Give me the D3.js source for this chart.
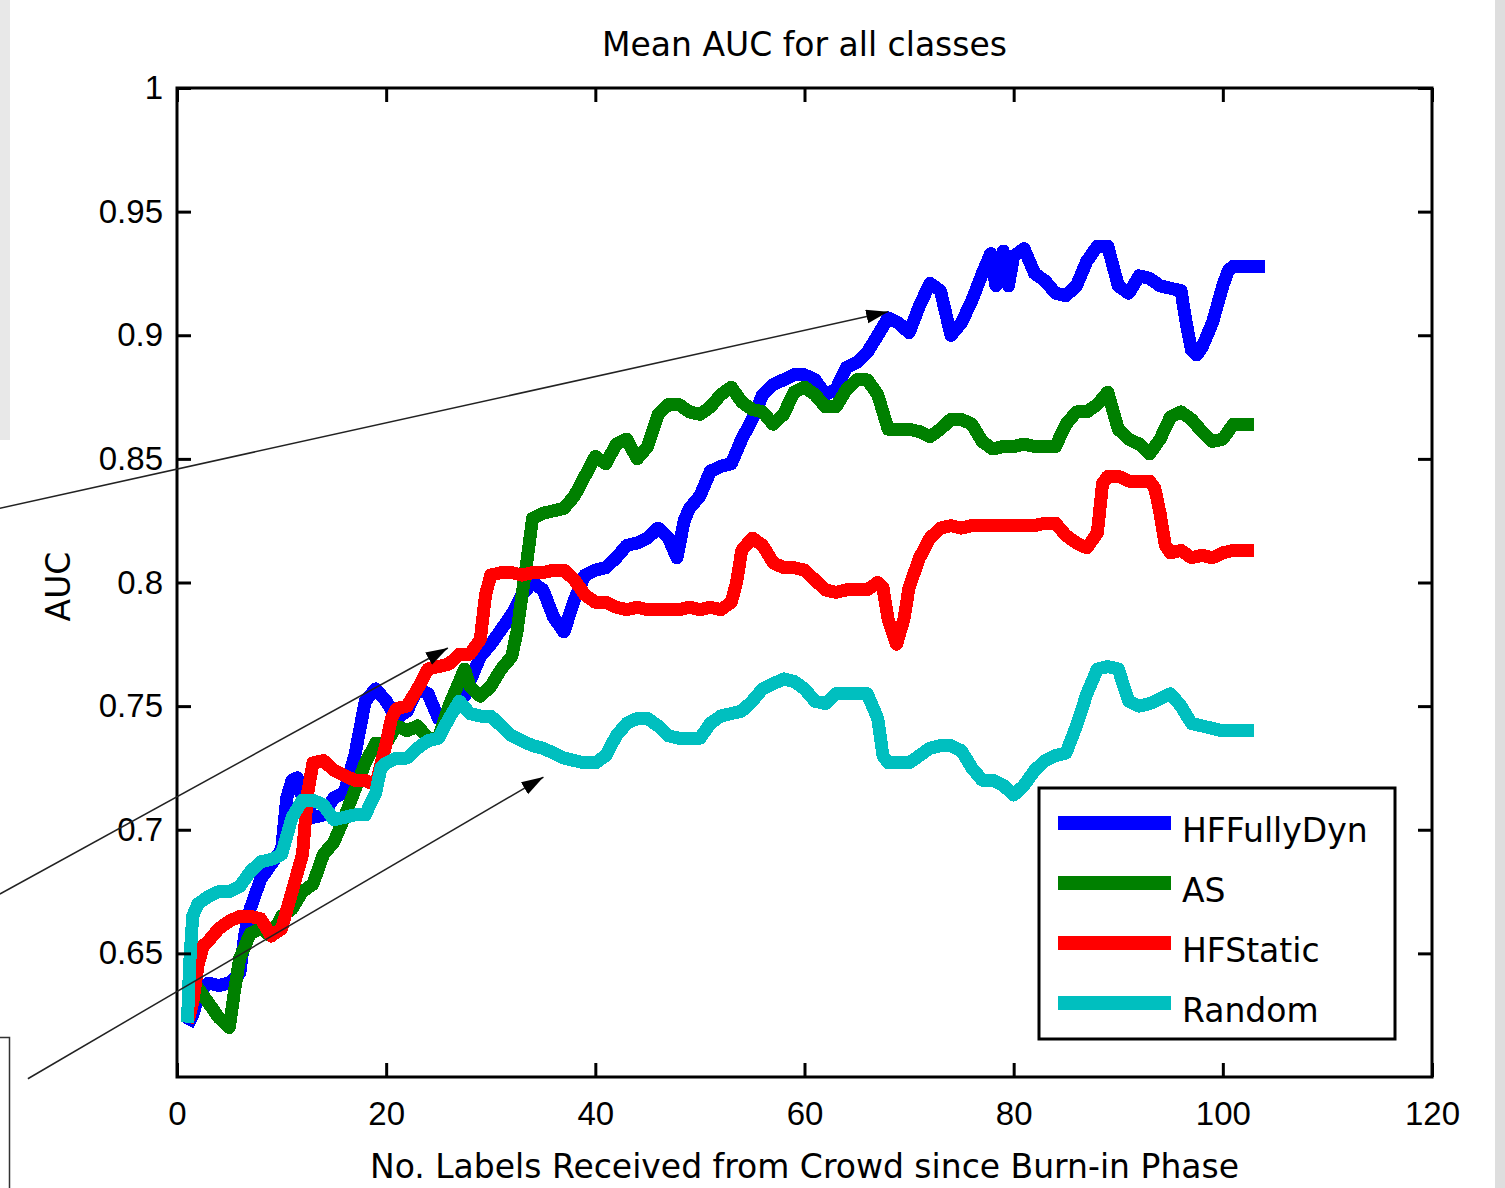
<!DOCTYPE html>
<html>
<meta charset="utf-8">
<title>Mean AUC for all classes</title>
<style>
html,body{margin:0;background:#fff;}
svg{display:block;background:#fff;}
.tick text{font-family:"Liberation Sans",Arial,sans-serif;font-size:33px;fill:#000;}
.tick line{stroke:#000;stroke-width:3;}
.lbl{font-family:"DejaVu Sans",sans-serif;font-size:33px;fill:#000;}
</style>
<script src="https://cdn.jsdelivr.net/npm/d3@7"></script>
<body>
<script>

var width = 1505, height = 1188;
var margin = {left:177, right:73, top:88, bottom:111};

// data: [labels received, mean AUC]
var seriesNames = ["HFFullyDyn", "AS", "HFStatic", "Random"];
var seriesColors = ["#0000ff", "#008000", "#ff0000", "#00bfbf"];

var hfFullyDyn = [[1,0.621],[1.5,0.625],[2,0.632],[2.5,0.636],[3,0.638],[4,0.637],[5,0.638],[6,0.642],[6.5,0.658],[7,0.668],[8,0.68],[9,0.686],[10,0.692],[10.5,0.713],[11,0.72],[11.5,0.721],[12,0.713],[13,0.705],[14,0.706],[15,0.713],[16,0.715],[17,0.73],[18,0.752],[19,0.757],[20,0.752],[21,0.745],[22,0.748],[23,0.757],[24,0.755],[25,0.745],[26,0.748],[27,0.756],[27.5,0.754],[28,0.76],[29,0.77],[30,0.775],[31,0.781],[32,0.787],[33,0.795],[34,0.8],[35,0.797],[36,0.786],[37,0.78],[38,0.793],[39,0.803],[40,0.805],[41,0.806],[42,0.81],[43,0.815],[44,0.816],[45,0.818],[46,0.822],[47,0.818],[47.8,0.81],[48.5,0.825],[49,0.83],[50,0.835],[51,0.845],[52,0.847],[53,0.848],[54,0.858],[55,0.866],[56,0.876],[57,0.88],[58,0.882],[59,0.884],[60,0.884],[61,0.882],[62,0.876],[63,0.878],[64,0.887],[65,0.889],[66,0.893],[67,0.9],[68,0.907],[69,0.905],[70,0.901],[71,0.912],[72,0.921],[73,0.918],[74,0.9],[75,0.905],[76,0.914],[77,0.925],[77.8,0.933],[78.3,0.92],[79,0.934],[79.5,0.92],[80,0.932],[81,0.935],[82,0.925],[83,0.922],[84,0.917],[85,0.916],[86,0.92],[87,0.93],[88,0.936],[89,0.936],[90,0.92],[91,0.917],[92,0.924],[93,0.923],[94,0.92],[95,0.919],[96,0.918],[96.5,0.905],[97,0.894],[97.5,0.892],[98,0.895],[99,0.905],[100,0.92],[100.5,0.926],[101,0.928],[104,0.928]];

var as = [[1,0.625],[1.5,0.63],[2,0.636],[3,0.63],[4,0.624],[5,0.62],[5.5,0.635],[6,0.648],[7,0.658],[8,0.66],[9,0.657],[10,0.665],[11,0.668],[12,0.675],[13,0.678],[14,0.69],[15,0.695],[16,0.705],[17,0.716],[18,0.727],[19,0.735],[20,0.735],[21,0.742],[22,0.74],[23,0.742],[24,0.737],[25,0.737],[26,0.75],[27,0.76],[27.5,0.765],[28,0.758],[29,0.754],[30,0.758],[31,0.765],[32,0.77],[32.5,0.78],[33,0.795],[33.5,0.81],[34,0.826],[35,0.828],[36,0.829],[37,0.83],[38,0.835],[39,0.843],[40,0.851],[41,0.848],[42,0.856],[43,0.858],[44,0.85],[45,0.855],[46,0.868],[47,0.872],[48,0.872],[49,0.869],[50,0.868],[51,0.871],[52,0.876],[53,0.879],[54,0.873],[55,0.87],[56,0.869],[57,0.864],[58,0.868],[59,0.877],[60,0.879],[61,0.876],[62,0.871],[63,0.871],[64,0.878],[65,0.882],[66,0.882],[67,0.876],[68,0.862],[69,0.862],[70,0.862],[71,0.861],[72,0.859],[73,0.862],[74,0.866],[75,0.866],[76,0.864],[77,0.857],[78,0.854],[79,0.855],[80,0.855],[81,0.856],[82,0.855],[83,0.855],[84,0.855],[85,0.864],[86,0.869],[87,0.869],[88,0.872],[89,0.877],[90,0.862],[91,0.858],[92,0.856],[93,0.852],[94,0.858],[95,0.867],[96,0.869],[97,0.866],[98,0.861],[99,0.857],[100,0.858],[101,0.864],[103,0.864]];

var hfStatic = [[1,0.622],[1.5,0.63],[2,0.645],[2.5,0.653],[3,0.655],[4,0.66],[5,0.663],[6,0.665],[7,0.665],[8,0.664],[9,0.657],[10,0.66],[11,0.675],[12,0.69],[12.5,0.715],[13,0.727],[14,0.728],[15,0.724],[16,0.722],[17,0.72],[18,0.72],[19,0.718],[20,0.735],[20.5,0.745],[21,0.749],[22,0.75],[23,0.757],[24,0.765],[25,0.766],[26,0.767],[27,0.771],[28,0.771],[29,0.777],[29.5,0.795],[30,0.803],[31,0.804],[32,0.804],[33,0.803],[34,0.804],[35,0.804],[36,0.805],[37,0.805],[38,0.801],[39,0.795],[40,0.792],[41,0.792],[42,0.79],[43,0.789],[44,0.79],[45,0.789],[46,0.789],[47,0.789],[48,0.789],[49,0.79],[50,0.789],[51,0.79],[52,0.789],[53,0.792],[53.5,0.8],[54,0.813],[55,0.818],[56,0.815],[57,0.808],[58,0.806],[59,0.806],[60,0.805],[61,0.801],[62,0.797],[63,0.796],[64,0.797],[65,0.797],[66,0.797],[67,0.8],[67.5,0.798],[68,0.785],[68.8,0.775],[69.5,0.785],[70,0.798],[71,0.81],[72,0.818],[73,0.822],[74,0.823],[75,0.822],[76,0.823],[77,0.823],[78,0.823],[80,0.823],[82,0.823],[83,0.824],[84,0.824],[85,0.819],[86,0.816],[87,0.814],[88,0.82],[88.5,0.84],[89,0.843],[90,0.843],[91,0.841],[92,0.841],[93,0.841],[93.5,0.838],[94,0.828],[94.5,0.815],[95,0.812],[96,0.813],[97,0.81],[98,0.811],[99,0.81],[100,0.812],[101,0.813],[103,0.813]];

var random = [[1,0.622],[1.2,0.645],[1.5,0.665],[2,0.67],[3,0.673],[4,0.675],[5,0.675],[6,0.677],[7,0.683],[8,0.687],[9,0.688],[10,0.69],[11,0.705],[12,0.712],[13,0.712],[14,0.71],[15,0.704],[16,0.705],[17,0.706],[18,0.706],[19,0.715],[19.5,0.725],[20,0.727],[21,0.729],[22,0.729],[23,0.733],[24,0.736],[25,0.737],[26,0.745],[27,0.752],[28,0.747],[29,0.746],[30,0.746],[31,0.742],[32,0.738],[33,0.736],[34,0.734],[35,0.733],[36,0.731],[37,0.729],[38,0.728],[39,0.727],[40,0.727],[41,0.73],[42,0.738],[43,0.743],[44,0.745],[45,0.745],[46,0.742],[47,0.738],[48,0.737],[49,0.737],[50,0.737],[51,0.743],[52,0.746],[53,0.747],[54,0.748],[55,0.752],[56,0.757],[57,0.759],[58,0.761],[59,0.76],[60,0.757],[61,0.752],[62,0.751],[63,0.755],[64,0.755],[65,0.755],[66,0.755],[67,0.745],[67.5,0.73],[68,0.727],[69,0.727],[70,0.727],[71,0.73],[72,0.733],[73,0.734],[74,0.734],[75,0.732],[76,0.725],[77,0.72],[78,0.72],[79,0.718],[80,0.714],[81,0.718],[82,0.724],[83,0.728],[84,0.73],[85,0.731],[86,0.742],[87,0.755],[88,0.765],[89,0.766],[90,0.765],[91,0.752],[92,0.75],[93,0.751],[94,0.753],[95,0.755],[96,0.75],[97,0.743],[98,0.742],[99,0.741],[100,0.74],[103,0.74]];

var allSeries = [hfFullyDyn, as, hfStatic, random];

var xTicks = [0, 20, 40, 60, 80, 100, 120];
var yTicks = [0.65, 0.7, 0.75, 0.8, 0.85, 0.9, 0.95, 1];

// annotation arrows: [from x, from y, to x, to y] in data units (start points lie outside the axes)
var arrows = [
  [-16.94, 0.83, 68.0, 0.9095],
  [-16.94, 0.674, 25.9, 0.7735],
  [-14.26, 0.5993, 35.04, 0.7213]
];

var x = d3.scaleLinear().domain([0, 120]).range([margin.left, width - margin.right]);
var y = d3.scaleLinear().domain([0.6, 1]).range([height - margin.bottom, margin.top]);

var svg = d3.select("body").append("svg")
    .attr("width", width)
    .attr("height", height);

// window chrome bits around the figure
svg.append("rect").attr("x", 0).attr("y", 0).attr("width", 10).attr("height", 440).attr("fill", "#e8e8e8");
svg.append("rect").attr("x", 1495).attr("y", 0).attr("width", 10).attr("height", height).attr("fill", "#dedede");
svg.append("path").attr("d", "M0,1037.5H9.5V1188").attr("fill", "none").attr("stroke", "#333").attr("stroke-width", 1.5);

var defs = svg.append("defs");
defs.append("marker")
    .attr("id", "head")
    .attr("markerUnits", "userSpaceOnUse")
    .attr("markerWidth", 24).attr("markerHeight", 16)
    .attr("refX", 22).attr("refY", 7)
    .attr("orient", "auto")
  .append("path")
    .attr("d", "M0,0L22,7L0,14Z")
    .attr("fill", "#000");

// lines
var line = d3.line()
    .x(function(d){ return x(d[0]); })
    .y(function(d){ return y(d[1]); });

svg.append("g").selectAll("path")
    .data(allSeries)
  .enter().append("path")
    .attr("d", line)
    .attr("fill", "none")
    .attr("stroke", function(d, i){ return seriesColors[i]; })
    .attr("stroke-width", 13)
    .attr("stroke-linejoin", "round")
    .attr("shape-rendering", "crispEdges");

// axes, ticks pointing inwards on all four sides
var fmt = function(d){ return String(+d.toFixed(2)); };

svg.append("g")
    .attr("transform", "translate(" + margin.left + ",0)")
    .call(d3.axisLeft(y).tickValues(yTicks).tickSize(-14).tickPadding(14).tickFormat(fmt))
    .call(function(g){ g.select(".domain").remove(); });

svg.append("g")
    .attr("transform", "translate(" + (width - margin.right) + ",0)")
    .call(d3.axisRight(y).tickValues(yTicks).tickSize(-14).tickFormat(""))
    .call(function(g){ g.select(".domain").remove(); });

svg.append("g")
    .attr("transform", "translate(0," + (height - margin.bottom) + ")")
    .call(d3.axisBottom(x).tickValues(xTicks).tickSize(-14).tickPadding(25).tickFormat(d3.format("d")))
    .call(function(g){ g.select(".domain").remove(); });

svg.append("g")
    .attr("transform", "translate(0," + margin.top + ")")
    .call(d3.axisTop(x).tickValues(xTicks).tickSize(-14).tickFormat(""))
    .call(function(g){ g.select(".domain").remove(); });

svg.append("rect")
    .attr("x", x(0)).attr("y", y(1))
    .attr("width", x(120) - x(0))
    .attr("height", y(0.6) - y(1))
    .attr("fill", "none")
    .attr("stroke", "#000")
    .attr("stroke-width", 3);

// labels
svg.append("text").attr("class", "lbl")
    .attr("x", (x(0) + x(120)) / 2).attr("y", 56)
    .attr("text-anchor", "middle")
    .text("Mean AUC for all classes");

svg.append("text").attr("class", "lbl")
    .attr("x", (x(0) + x(120)) / 2).attr("y", 1178)
    .attr("text-anchor", "middle")
    .text("No. Labels Received from Crowd since Burn-in Phase");

svg.append("text").attr("class", "lbl")
    .attr("transform", "translate(70," + ((y(0.6) + y(1)) / 2 + 4) + ") rotate(-90)")
    .attr("text-anchor", "middle")
    .text("AUC");

// legend
var legend = svg.append("g").attr("transform", "translate(1039,788)");
legend.append("rect")
    .attr("width", 356).attr("height", 251)
    .attr("fill", "#fff").attr("stroke", "#000").attr("stroke-width", 3);

var items = legend.selectAll("g.item")
    .data(seriesNames)
  .enter().append("g")
    .attr("class", "item")
    .attr("transform", function(d, i){ return "translate(0," + (35 + i * 60) + ")"; });

items.append("line")
    .attr("x1", 19).attr("x2", 132)
    .attr("stroke", function(d, i){ return seriesColors[i]; })
    .attr("stroke-width", 14);

items.append("text").attr("class", "lbl")
    .attr("x", 143).attr("y", 19)
    .text(function(d){ return d; });

// annotation arrows on top
svg.append("g").selectAll("line")
    .data(arrows)
  .enter().append("line")
    .attr("x1", function(d){ return x(d[0]); })
    .attr("y1", function(d){ return y(d[1]); })
    .attr("x2", function(d){ return x(d[2]); })
    .attr("y2", function(d){ return y(d[3]); })
    .attr("stroke", "#222")
    .attr("stroke-width", 1.5)
    .attr("marker-end", "url(#head)");

</script>
</body>
</html>
